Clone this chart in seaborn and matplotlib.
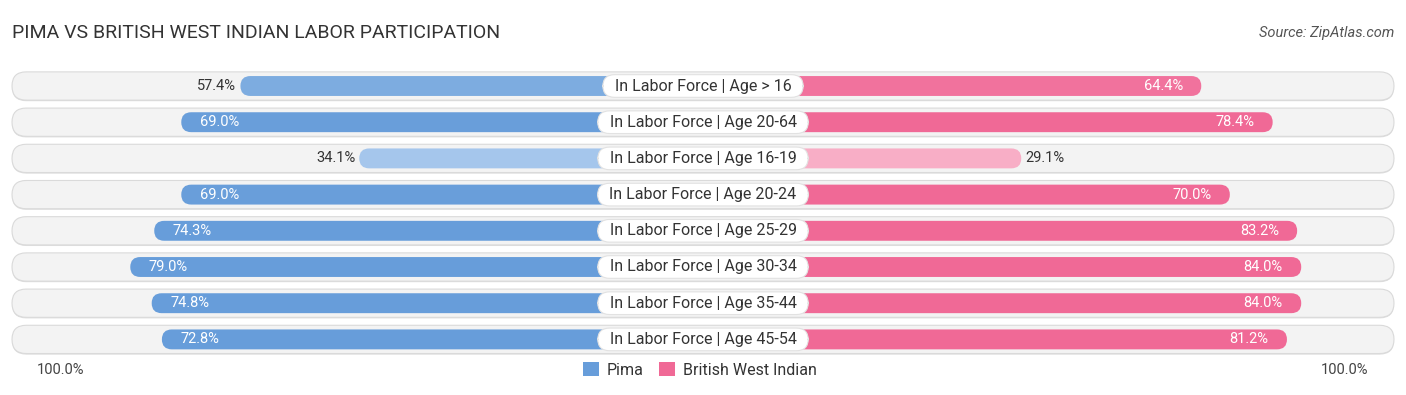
import numpy as np
import pandas as pd
import seaborn as sns
import matplotlib.pyplot as plt
from matplotlib.patches import FancyBboxPatch, Patch
from matplotlib.colors import to_rgb

# data
categories = [
    "In Labor Force | Age > 16",
    "In Labor Force | Age 20-64",
    "In Labor Force | Age 16-19",
    "In Labor Force | Age 20-24",
    "In Labor Force | Age 25-29",
    "In Labor Force | Age 30-34",
    "In Labor Force | Age 35-44",
    "In Labor Force | Age 45-54",
]
pima = [57.4, 69.0, 34.1, 69.0, 74.3, 79.0, 74.8, 72.8]
bwi = [64.4, 78.4, 29.1, 70.0, 83.2, 84.0, 84.0, 81.2]
series_names = ["Pima", "British West Indian"]

title = "PIMA VS BRITISH WEST INDIAN LABOR PARTICIPATION"
source = "Source: ZipAtlas.com"

BLUE, BLUE_LIGHT = "#679dda", "#b5d1f0"
PINK, PINK_LIGHT = "#f06996", "#f9b5cb"
OFFSET = 33.3          # bars start hidden behind the centre label
PX = 5.1               # pixels per percent
ROW_PX = 36.2
W, H = 1406, 395


def shade(full, light, v):
    t = np.clip((v - 25) / 45.0, 0, 1)
    a, b = np.array(to_rgb(light)), np.array(to_rgb(full))
    return tuple(a + (b - a) * t)


sns.set_theme(style="white")
plt.rcParams["font.family"] = ["Roboto", "DejaVu Sans"]

df = pd.DataFrame({
    "label": categories * 2,
    "side": [series_names[0]] * len(categories) + [series_names[1]] * len(categories),
    "value": pima + bwi,
})
df["extent"] = np.where(df["side"] == series_names[0], -1, 1) * (OFFSET + df["value"])

fig = plt.figure(figsize=(W / 100, H / 100), dpi=100)
ax = fig.add_axes([0, 0, 1, 1])
half = W / 2 / PX
top = 86 / ROW_PX

bar_h = 0.55
sns.barplot(data=df, x="extent", y="label", hue="side", orient="h", dodge=False,
            width=bar_h, palette=[BLUE, PINK], legend=False, ax=ax, zorder=3)
ax.set_xlim(-half, half)
ax.set_ylim((H - 86) / ROW_PX, -top)
ax.axis("off")

# background pills
bg_h = 0.78
bg_half = (W / 2 - 12) / PX
r_bg = bg_h / 2 * ROW_PX / PX
for i in range(len(categories)):
    sh = FancyBboxPatch((-bg_half, i - bg_h / 2 + 0.03), 2 * bg_half, bg_h,
                        boxstyle=f"round,pad=0,rounding_size={r_bg}",
                        mutation_aspect=PX / ROW_PX, fc="#dedede", ec="none", zorder=0)
    ax.add_patch(sh)
    bg = FancyBboxPatch((-bg_half, i - bg_h / 2), 2 * bg_half, bg_h,
                        boxstyle=f"round,pad=0,rounding_size={r_bg}",
                        mutation_aspect=PX / ROW_PX, fc="#f3f3f3", ec="#dadada",
                        lw=0.8, zorder=1)
    ax.add_patch(bg)

# turn seaborn's bars into rounded pills
r_bar = bar_h / 2 * ROW_PX / PX
for p in list(ax.patches):
    if not isinstance(p, plt.Rectangle):
        continue
    x0, y0, w, h = p.get_x(), p.get_y(), p.get_width(), p.get_height()
    if h == 0 or w == 0:
        continue
    row = int(round(y0 + h / 2))
    if w < 0:
        x0, w = x0 + w, -w
        col = shade(BLUE, BLUE_LIGHT, pima[row])
    else:
        col = shade(PINK, PINK_LIGHT, bwi[row])
    p.remove()
    ax.add_patch(FancyBboxPatch((x0, y0), w, h,
                                boxstyle=f"round,pad=0,rounding_size={r_bar}",
                                mutation_aspect=PX / ROW_PX, fc=col, ec="none", zorder=3))

# labels and values
for i, cat in enumerate(categories):
    ax.text(0, i, f"  {cat}  ", ha="center", va="center", fontsize=11.5, color="#333333",
            zorder=5,
            bbox=dict(boxstyle="round,pad=0.24,rounding_size=0.75", fc="white",
                      ec="#e2e2e2", lw=0.8))
    lv, rv = pima[i], bwi[i]
    le, re_ = -(OFFSET + lv), OFFSET + rv
    if lv >= 60:
        ax.text(le + 3.6, i, f"{lv:.1f}%", ha="left", va="center", fontsize=10.5,
                color="white", zorder=6)
    else:
        ax.text(le - 0.8, i, f"{lv:.1f}%", ha="right", va="center", fontsize=10.5,
                color="#333333", zorder=6)
    if rv >= 60:
        ax.text(re_ - 3.6, i, f"{rv:.1f}%", ha="right", va="center", fontsize=10.5,
                color="white", zorder=6)
    else:
        ax.text(re_ + 0.8, i, f"{rv:.1f}%", ha="left", va="center", fontsize=10.5,
                color="#333333", zorder=6)

fig.text(12 / W, 1 - 33 / H, title, ha="left", va="center", fontsize=14, color="#333333")
fig.text(1394 / W, 1 - 33 / H, source, ha="right", va="center", fontsize=10.5,
         color="#555555", style="italic")
fig.text(61 / W, 1 - 370 / H, "100.0%", ha="center", va="center", fontsize=10.5, color="#444444")
fig.text(1345 / W, 1 - 370 / H, "100.0%", ha="center", va="center", fontsize=10.5, color="#444444")

handles = [Patch(fc=BLUE, ec="none"), Patch(fc=PINK, ec="none")]
fig.legend(handles, series_names, loc="center", bbox_to_anchor=(700 / W, 1 - 370 / H),
           ncol=2, frameon=False, fontsize=11.5, handlelength=1.0, handleheight=1.0,
           handletextpad=0.5, columnspacing=1.0, labelcolor="#333333")

fig.savefig("out.png", dpi=100)
